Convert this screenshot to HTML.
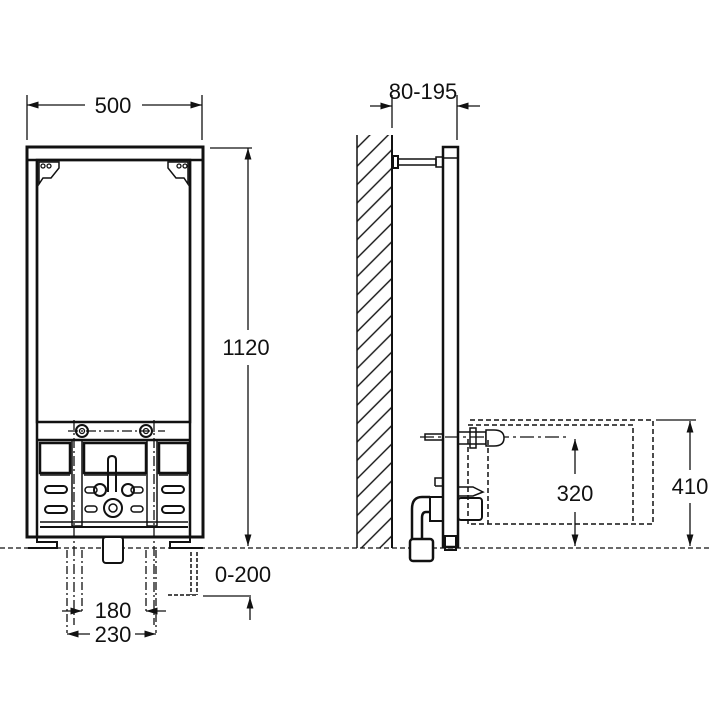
<!DOCTYPE html>
<html><head><meta charset="utf-8"><style>
html,body{margin:0;padding:0;background:#fff;}
svg{display:block;}
text{font-family:"Liberation Sans",sans-serif;font-size:22px;fill:#111;}
</style></head><body>
<svg width="712" height="712" viewBox="0 0 712 712" xmlns="http://www.w3.org/2000/svg">
<defs>
<pattern id="h" width="13" height="13" patternUnits="userSpaceOnUse" patternTransform="rotate(45)">
<line x1="6" y1="0" x2="6" y2="13" stroke="#111" stroke-width="1.4"/>
</pattern>
<marker id="a" viewBox="0 0 10 10" refX="10" refY="5" markerWidth="9" markerHeight="9" orient="auto-start-reverse"><path d="M0,2 L10,5 L0,8 Z" fill="#111"/></marker>
</defs>
<g stroke="#111" fill="none" stroke-width="1.3">
<line x1="0" y1="548" x2="712" y2="548" stroke-dasharray="5,3"/>

<!-- FRONT VIEW -->
<rect x="27" y="147" width="176" height="390" stroke-width="3"/>
<line x1="27" y1="160" x2="203" y2="160" stroke-width="2.5"/>
<rect x="37" y="160" width="153" height="262" stroke-width="2.5"/>
<line x1="37" y1="160" x2="37" y2="537" stroke-width="2.5"/>
<line x1="190" y1="160" x2="190" y2="537" stroke-width="2.5"/>
<path d="M39,162 h20 v6 l-8,10 h-8 l-4,6 z" stroke-width="1.5"/>
<path d="M188,162 h-20 v6 l8,10 h8 l4,6 z" stroke-width="1.5"/>
<circle cx="43" cy="166" r="2"/><circle cx="49" cy="166" r="2"/>
<circle cx="179" cy="166" r="2"/><circle cx="185" cy="166" r="2"/>
<line x1="37" y1="440" x2="190" y2="440" stroke-width="2.5"/>
<circle cx="82" cy="431" r="6" stroke-width="2"/><circle cx="82" cy="431" r="2.5"/>
<circle cx="146" cy="431" r="6" stroke-width="2"/><circle cx="146" cy="431" r="2.5"/>
<line x1="68" y1="431" x2="165" y2="431" stroke-dasharray="10,3,2,3"/>
<rect x="40" y="443" width="30" height="30" stroke-width="2.5"/>
<rect x="84" y="443" width="62" height="30" stroke-width="2.5"/>
<rect x="159" y="443" width="29" height="30" stroke-width="2.5"/>
<rect x="72" y="440" width="10" height="86" stroke-width="1.5"/>
<rect x="147" y="440" width="10" height="86" stroke-width="1.5"/>
<line x1="74" y1="420" x2="74" y2="625" stroke-dasharray="10,3,2,3"/>
<line x1="154" y1="420" x2="154" y2="625" stroke-dasharray="10,3,2,3"/>
<path d="M40,475 h30 M84,475 h62 M159,475 h29" stroke-width="1.5"/>
<rect x="45" y="486" width="22" height="7" rx="3.5" stroke-width="2"/>
<rect x="45" y="506" width="22" height="7" rx="3.5" stroke-width="2"/>
<rect x="162" y="486" width="22" height="7" rx="3.5" stroke-width="2"/>
<rect x="162" y="506" width="22" height="7" rx="3.5" stroke-width="2"/>
<rect x="85" y="487" width="12" height="6" rx="3" stroke-width="1.5"/>
<rect x="131" y="487" width="12" height="6" rx="3" stroke-width="1.5"/>
<rect x="85" y="506" width="12" height="6" rx="3" stroke-width="1.5"/>
<rect x="131" y="506" width="12" height="6" rx="3" stroke-width="1.5"/>
<path d="M108,492 v-32 q0,-4 4,-4 q4,0 4,4 v32" stroke-width="2"/>
<circle cx="100" cy="490" r="6" stroke-width="2"/><circle cx="128" cy="490" r="6" stroke-width="2"/>
<circle cx="113" cy="508" r="9" stroke-width="2"/><circle cx="113" cy="508" r="4" stroke-width="1.5"/>
<line x1="40" y1="522" x2="188" y2="522" stroke-width="1.5"/>
<line x1="40" y1="527" x2="188" y2="527" stroke-width="2"/>
<path d="M37,537 v5 h20 v6 h-29" stroke-width="2"/>
<path d="M190,537 v5 h-20 v6 h33" stroke-width="2"/>
<rect x="103" y="537" width="20" height="26" rx="3" stroke-width="2" fill="#fff"/>
<line x1="82" y1="550" x2="82" y2="612" stroke-dasharray="8,3,2,3"/>
<line x1="146" y1="550" x2="146" y2="612" stroke-dasharray="8,3,2,3"/>
<line x1="67" y1="550" x2="67" y2="633" stroke-dasharray="8,3,2,3"/>
<line x1="156" y1="550" x2="156" y2="633" stroke-dasharray="8,3,2,3"/>
<line x1="62" y1="611" x2="82" y2="611" marker-end="url(#a)"/>
<line x1="166" y1="611" x2="146" y2="611" marker-end="url(#a)"/>
<line x1="90" y1="634" x2="67" y2="634" marker-end="url(#a)"/>
<line x1="135" y1="634" x2="156" y2="634" marker-end="url(#a)"/>
<path d="M191,552 v43 M197,552 v43 M168,595 h29" stroke-dasharray="4,2" stroke-width="1.5"/>
<line x1="203" y1="596" x2="251" y2="596"/>
<line x1="250" y1="620" x2="250" y2="597" marker-end="url(#a)"/>
<line x1="27" y1="95" x2="27" y2="140"/>
<line x1="202" y1="95" x2="202" y2="140"/>
<line x1="85" y1="105" x2="27" y2="105" marker-end="url(#a)"/>
<line x1="142" y1="105" x2="202" y2="105" marker-end="url(#a)"/>
<line x1="210" y1="148" x2="252" y2="148"/>
<line x1="248" y1="330" x2="248" y2="148" marker-end="url(#a)"/>
<line x1="248" y1="365" x2="248" y2="546" marker-end="url(#a)"/>

<!-- SIDE VIEW -->
<rect x="357" y="135" width="35" height="413" fill="url(#h)" stroke="none"/>
<line x1="357" y1="135" x2="357" y2="548" stroke-width="1.5"/>
<line x1="392" y1="135" x2="392" y2="548" stroke-width="2"/>
<line x1="392" y1="95" x2="392" y2="128"/>
<line x1="457" y1="95" x2="457" y2="140"/>
<line x1="370" y1="106" x2="392" y2="106" marker-end="url(#a)"/>
<line x1="480" y1="106" x2="457" y2="106" marker-end="url(#a)"/>
<rect x="443" y="147" width="15" height="400" stroke-width="2.5"/>
<line x1="443" y1="158" x2="458" y2="158" stroke-width="1.5"/>
<rect x="393" y="156" width="5" height="12" stroke-width="2"/>
<rect x="398" y="159" width="38" height="6" stroke-width="1.5"/>
<rect x="436" y="157" width="7" height="10" stroke-width="1.5"/>
<line x1="420" y1="437" x2="570" y2="437" stroke-dasharray="14,4,3,4"/>
<rect x="425" y="434" width="18" height="6" stroke-width="1.5"/>
<rect x="458" y="432" width="28" height="12" stroke-width="1.5"/>
<path d="M486,430 h8 q10,0 10,8 q0,8 -10,8 h-8 z" stroke-width="1.5" fill="#fff"/>
<rect x="470" y="428" width="6" height="20" stroke-width="1.5"/>
<path d="M435,486 h8 M435,486 v-8 h8" stroke-width="1.5"/>
<path d="M458,487 h15 l10,5 l-10,4 h-15" stroke-width="1.5"/>
<rect x="458" y="498" width="24" height="22" rx="3" stroke-width="2"/>
<rect x="430" y="497" width="13" height="24" stroke-width="2"/>
<path d="M430,497 h-8 q-10,0 -10,12 v30 M430,512 h-4 q-4,0 -4,6 v21" stroke-width="2.5"/>
<rect x="410" y="539" width="23" height="22" rx="3" stroke-width="2.5" fill="#fff"/>
<rect x="445" y="536" width="11" height="14" stroke-width="2"/>
<path d="M470,420 h183 v104 h-185 v-88" stroke-dasharray="5,3" stroke-width="1.5"/>
<path d="M468,425 h165 v99 M488,440 v84" stroke-dasharray="5,3" stroke-width="1.5"/>
<line x1="656" y1="420" x2="696" y2="420"/>
<line x1="690" y1="470" x2="690" y2="421" marker-end="url(#a)"/>
<line x1="690" y1="503" x2="690" y2="546" marker-end="url(#a)"/>
<line x1="575" y1="474" x2="575" y2="439" marker-end="url(#a)"/>
<line x1="575" y1="512" x2="575" y2="546" marker-end="url(#a)"/>
</g>
<text x="113" y="113" text-anchor="middle">500</text>
<text x="246" y="355" text-anchor="middle">1120</text>
<text x="423" y="99" text-anchor="middle">80-195</text>
<text x="575" y="501" text-anchor="middle">320</text>
<text x="690" y="494" text-anchor="middle">410</text>
<text x="243" y="582" text-anchor="middle">0-200</text>
<text x="113" y="618" text-anchor="middle">180</text>
<text x="113" y="642" text-anchor="middle">230</text>
</svg>
</body></html>
